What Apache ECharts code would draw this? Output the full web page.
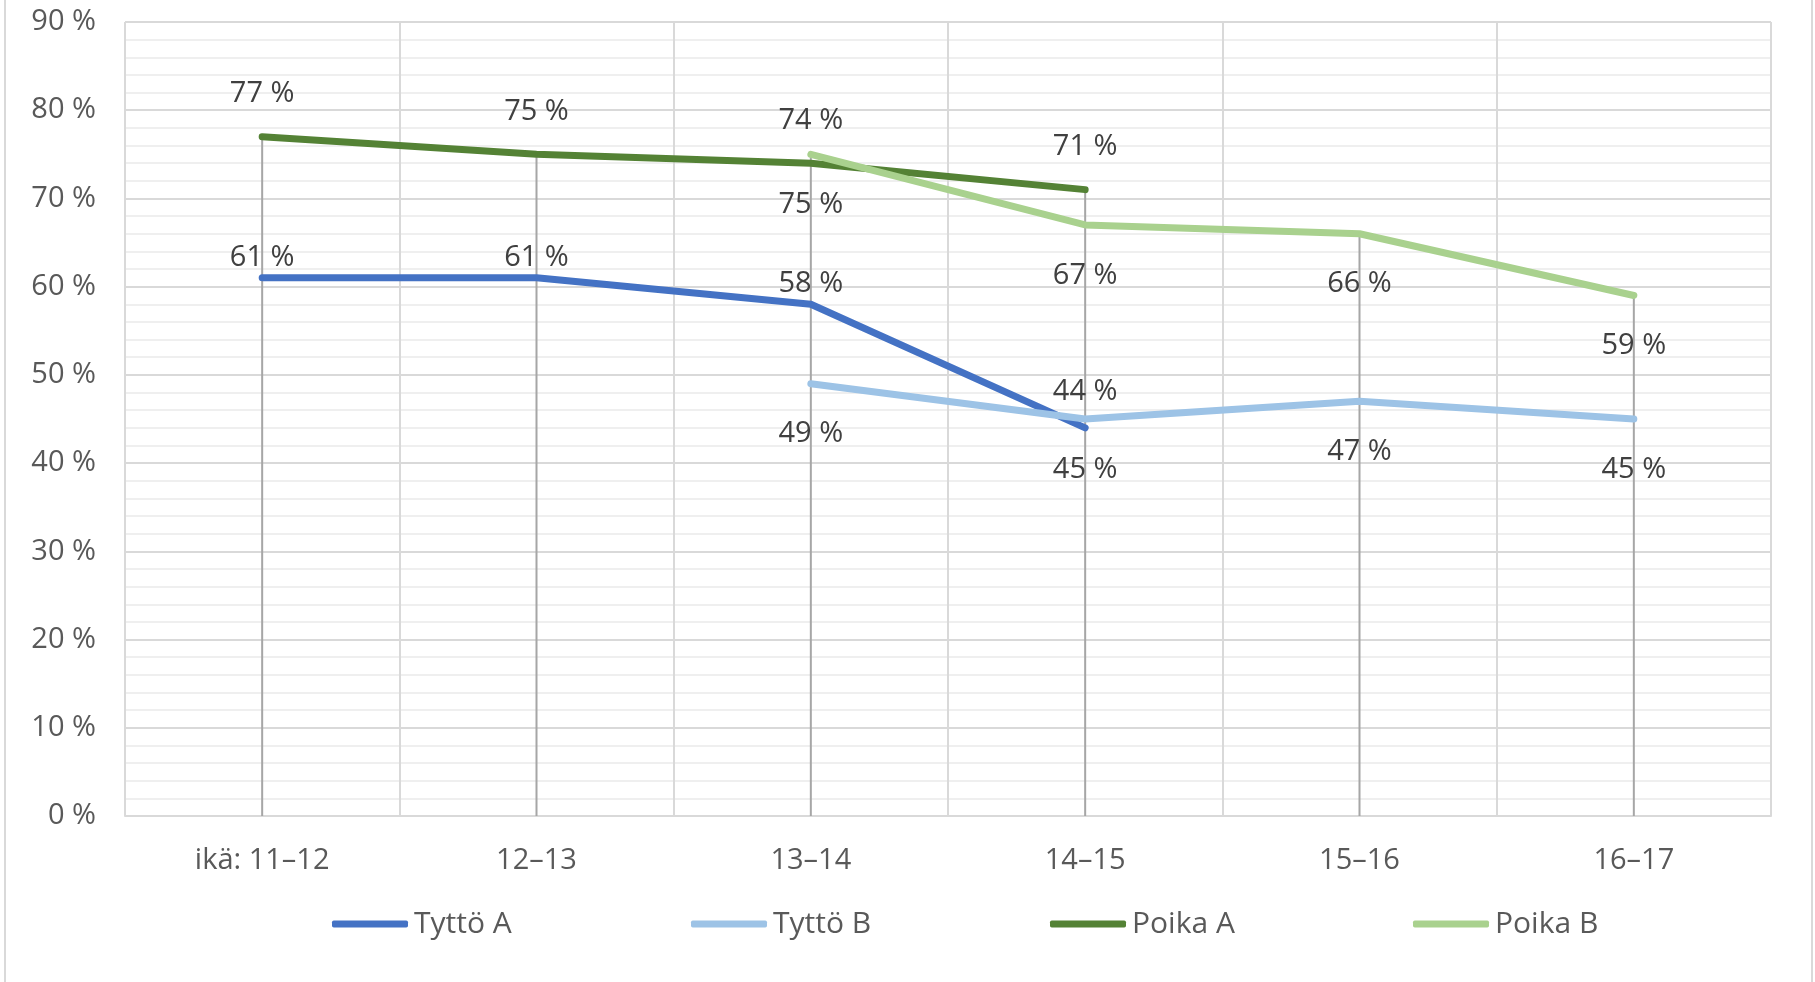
<!DOCTYPE html>
<html>
<head>
<meta charset="utf-8">
<script src="https://cdn.jsdelivr.net/npm/echarts@6/dist/echarts.min.js"></script>
<style>
html,body{margin:0;padding:0;background:#fff;}
#chart{width:1815px;height:982px;}
</style>
</head>
<body>
<div id="chart"></div>
<script>
const categories = ['ikä: 11–12', '12–13', '13–14', '14–15', '15–16', '16–17'];
const tyttoA = [61, 61, 58, 44, null, null];
const tyttoB = [null, null, 49, 45, 47, 45];
const poikaA = [77, 75, 74, 71, null, null];
const poikaB = [null, null, 75, 67, 66, 59];
const seriesNames = ['Tyttö A', 'Tyttö B', 'Poika A', 'Poika B'];

const FONT = 'Open Sans';
const allSeries = [tyttoA, tyttoB, poikaA, poikaB];
const dropValues = categories.map((c, i) => {
  const vals = allSeries.map(s => s[i]).filter(v => v != null);
  return vals.length ? Math.max.apply(null, vals) : null;
});

function lineSeries(name, data, color, pos, dist, z) {
  return {
    name: name, type: 'line', data: data, z: z,
    symbol: 'circle', symbolSize: 2, showSymbol: true, connectNulls: false,
    lineStyle: { color: color, width: 7, cap: 'round', join: 'round' },
    itemStyle: { color: color },
    label: {
      show: true, position: pos, distance: dist,
      formatter: p => p.value + ' %',
      fontFamily: FONT, fontSize: 29, color: '#404040'
    },
    labelLayout: { hideOverlap: false },
    emphasis: { disabled: true }
  };
}

const sA = lineSeries(seriesNames[0], tyttoA.map((v, i) => i === 3 ? { value: v, label: { distance: 21 } } : v), '#4472C4', 'top', 5, 3);
const sB = lineSeries(seriesNames[1], tyttoB, '#9DC3E6', 'bottom', 35, 4);
const sC = lineSeries(seriesNames[2], poikaA, '#548235', 'top', 27, 5);
const sD = lineSeries(seriesNames[3], poikaB, '#A9D18E', 'bottom', 35, 6);

const legendLefts = [327, 686, 1045, 1408];
const legends = seriesNames.map((n, i) => ({
  data: [n],
  left: legendLefts[i], top: 904,
  itemWidth: 76, itemHeight: 7, itemGap: 0,
  icon: 'roundRect',
  textStyle: { fontFamily: FONT, fontSize: 30, color: '#595959', padding: [0, 0, 0, 1] }
}));

const chart = echarts.init(document.getElementById('chart'), null, { renderer: 'canvas' });
chart.setOption({
  animation: false,
  backgroundColor: '#fff',
  textStyle: { fontFamily: FONT },
  grid: { left: 125, right: 44, top: 22, bottom: 166, containLabel: false },
  legend: legends,
  xAxis: {
    type: 'category', data: categories, boundaryGap: true,
    axisLine: { show: true, lineStyle: { color: '#d9d9d9', width: 2 } },
    axisTick: { show: false },
    axisLabel: { fontFamily: FONT, fontSize: 29, color: '#595959', margin: 30 },
    splitLine: { show: true, lineStyle: { color: '#d9d9d9', width: 2 } }
  },
  yAxis: {
    type: 'value', min: 0, max: 90, interval: 10,
    axisLine: { show: false }, axisTick: { show: false },
    axisLabel: { fontFamily: FONT, fontSize: 29, color: '#595959', margin: 29, formatter: v => v + ' %' },
    splitLine: { show: true, lineStyle: { color: '#d9d9d9', width: 2 } },
    minorTick: { show: false, splitNumber: 5 },
    minorSplitLine: { show: true, lineStyle: { color: '#efefef', width: 2 } }
  },
  graphic: [{
    type: 'rect', shape: { x: 5, y: -10, width: 1807, height: 1010 },
    style: { fill: null, stroke: '#d9d9d9', lineWidth: 2 }, silent: true, z: 0
  }],
  series: [
    {
      name: 'drop', type: 'bar', data: dropValues, barWidth: 2, z: 1,
      itemStyle: { color: '#a6a6a6' }, silent: true, label: { show: false },
      emphasis: { disabled: true }
    },
    sA, sB, sC, sD
  ]
});
</script>
</body>
</html>
